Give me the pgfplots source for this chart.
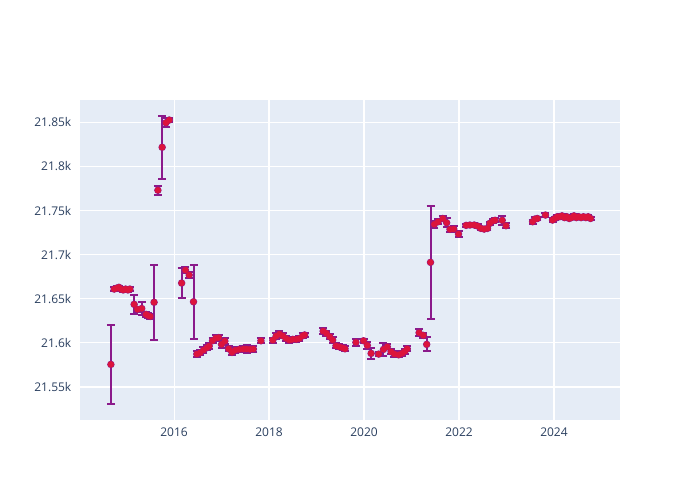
\documentclass[border=0pt]{standalone}
\usepackage{fontspec}
\setmainfont{Open Sans}
\usepackage{pgfplots}
\usepackage{pgfplotstable}
\pgfplotsset{compat=1.18}
\definecolor{bgc}{HTML}{E5ECF6}
\definecolor{txt}{HTML}{2A3F5F}
\definecolor{mk}{HTML}{DC143C}
\definecolor{eb}{HTML}{8B1A8B}
\pgfplotstableread{
x y e
2014.67 21575.6 45
2014.74 21661 2
2014.79 21662 2
2014.84 21663 2
2014.88 21661 2
2014.93 21660 2
2014.98 21661 2
2015.03 21660 2
2015.07 21661 2
2015.16 21643.7 11
2015.23 21638 3
2015.32 21639 7
2015.41 21632.3 3
2015.45 21631 3
2015.50 21630 3
2015.58 21646 42.5
2015.66 21773 5
2015.75 21821.7 36
2015.83 21849.5 5
2015.90 21852.6 2
2016.16 21667.8 17
2016.24 21682.5 3
2016.32 21676.9 3
2016.41 21646.6 42
2016.48 21587.3 3
2016.55 21588.8 3
2016.62 21591.8 3
2016.69 21594.4 3
2016.74 21596.4 3
2016.81 21602.4 3
2016.88 21605.4 3
2016.94 21606 3
2017.00 21598.3 4
2017.07 21602 3
2017.15 21593.3 3
2017.22 21589.2 3
2017.29 21591.8 3
2017.37 21592.6 3
2017.46 21593 3
2017.53 21593 5
2017.60 21592.6 3
2017.67 21593 3
2017.83 21602.4 3
2018.08 21603 3
2018.15 21607.7 3
2018.22 21610 3
2018.29 21608 3
2018.36 21605 3
2018.43 21603 3
2018.50 21604 3
2018.57 21604 3
2018.64 21605 3
2018.71 21608 3
2018.75 21609 2
2019.14 21613.4 3
2019.21 21610.8 3
2019.28 21607 3
2019.34 21603.2 3
2019.41 21596.7 3
2019.48 21595.6 3
2019.55 21594.4 3
2019.60 21593.3 3
2019.83 21600.6 4
2019.99 21602.4 2
2020.07 21597.2 4
2020.15 21588.1 6
2020.31 21587.3 2
2020.41 21592.6 7.5
2020.49 21595.6 3
2020.57 21590 3
2020.64 21587.3 3
2020.73 21586.5 3
2020.80 21588 3
2020.86 21590.4 3
2020.91 21593.3 3
2021.16 21611.5 4
2021.25 21608.5 3
2021.32 21598.3 8
2021.40 21691.3 64
2021.48 21734.4 4
2021.56 21737.3 3
2021.66 21741 3
2021.74 21736.2 5
2021.81 21728.7 3
2021.89 21729 3
2021.99 21723.4 3
2022.15 21733.2 2
2022.23 21733.6 2
2022.32 21733.6 2
2022.39 21732.5 2
2022.46 21729.8 2
2022.53 21729 2
2022.60 21729.8 2
2022.65 21735.5 2
2022.72 21738.4 2
2022.76 21739 2
2022.91 21738.9 5
2022.99 21732.8 3
2023.55 21737.3 2
2023.60 21740.4 2
2023.65 21741 2
2023.82 21744.9 2
2023.97 21739.2 2
2024.02 21741 2
2024.07 21743 2
2024.12 21743 2
2024.17 21744 2
2024.22 21742 2
2024.27 21743 2
2024.32 21741 2
2024.37 21742 2
2024.42 21744 2
2024.47 21742 2
2024.52 21743 2
2024.57 21742 2
2024.62 21743 2
2024.67 21742 2
2024.72 21743 2
2024.77 21741 2
}\datatable
\begin{document}
\begin{tikzpicture}
\path[use as bounding box] (-60pt,-60pt) rectangle (465pt,315pt);
\begin{axis}[
  at={(0pt,0pt)}, anchor=south west,
  scale only axis, width=405pt, height=240pt,
  xmin=2014.02, xmax=2025.39,
  ymin=21512.6, ymax=21875.3,
  scaled y ticks=false, scaled x ticks=false,
  axis background/.style={fill=bgc},
  axis line style={draw=none},
  major tick length=0pt,
  grid=major,
  major grid style={white, line width=0.8pt},
  xtick={2016,2018,2020,2022,2024},
  xticklabels={2016,2018,2020,2022,2024},
  ytick={21550,21600,21650,21700,21750,21800,21850},
  yticklabels={21.55k,21.6k,21.65k,21.7k,21.75k,21.8k,21.85k},
  tick label style={font=\fontsize{9pt}{11pt}\selectfont, text=txt},
  yticklabel style={xshift=-3pt},
  xticklabel style={yshift=-2pt},
  every error bar/.style={draw=eb, line width=1.5pt},
  clip=false,
]
\addplot[eb, line width=1.5pt, only marks, mark=none,
  error bars/.cd, y dir=both, y explicit,
  error mark options={eb, line width=1.5pt, mark size=3pt, rotate=90}]
  table[x=x, y=y, y error=e] {\datatable};
\addplot[only marks, mark=*, mark size=2.2pt, mk, mark options={draw=mk, fill=mk}]
  table[x=x, y=y] {\datatable};
\end{axis}
\end{tikzpicture}
\end{document}
